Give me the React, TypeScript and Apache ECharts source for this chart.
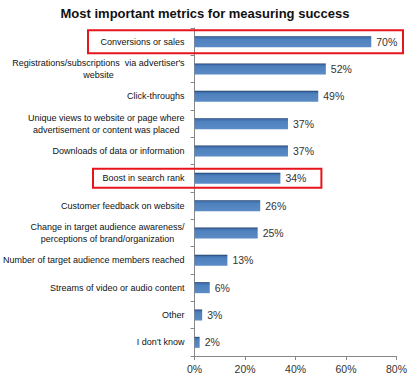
import React, { useEffect, useRef } from "react";
import * as echarts from "echarts";

const categories = [
  "Conversions or sales",
  "Registrations/subscriptions  via advertiser's\nwebsite",
  "Click-throughs",
  "Unique views to website or page where\nadvertisement or content was placed",
  "Downloads of data or information",
  "Boost in search rank",
  "Customer feedback on website",
  "Change in target audience awareness/\nperceptions of brand/organization",
  "Number of target audience members reached",
  "Streams of video or audio content",
  "Other",
  "I don't know",
];
const values = [70, 52, 49, 37, 37, 34, 26, 25, 13, 6, 3, 2];
const highlighted = [0, 5];
const title = "Most important metrics for measuring success";

const FONT = "'Liberation Sans', Arial, sans-serif";

export default function App() {
  const ref = useRef<HTMLDivElement>(null);
  useEffect(() => {
    const chart = echarts.init(ref.current!, null, { renderer: "svg" });
    chart.setOption({
      animation: false,
      backgroundColor: "#fff",
      title: {
        text: title,
        left: "center",
        top: 2,
        textStyle: { fontFamily: FONT, fontSize: 13, fontWeight: "bold", color: "#111" },
      },
      grid: { left: 192, right: 12, top: 28, bottom: 24 },
      xAxis: {
        type: "value",
        min: 0,
        max: 80,
        interval: 20,
        axisLine: { show: true, lineStyle: { color: "#888" } },
        axisTick: { show: true, length: 4, lineStyle: { color: "#888" } },
        splitLine: { show: false },
        axisLabel: {
          formatter: "{value}%",
          fontFamily: FONT,
          fontSize: 10.5,
          color: "#333",
          margin: 7,
        },
      },
      yAxis: {
        type: "category",
        inverse: true,
        data: categories,
        axisLine: { show: true, lineStyle: { color: "#888" } },
        axisTick: { show: true, length: 4, lineStyle: { color: "#888" } },
        axisLabel: {
          margin: 10,
          interval: 0,
          formatter: (v: string) => v.split("\n").map((l) => "{c|" + l + "}").join("\n"),
          rich: {
            c: { align: "center", fontFamily: FONT, fontSize: 9, color: "#111", lineHeight: 12 },
          },
        },
      },
      series: [
        {
          type: "bar",
          data: values,
          barWidth: 11,
          itemStyle: {
            color: new echarts.graphic.LinearGradient(0, 0, 0, 1, [
              { offset: 0, color: "#1f3a60" },
              { offset: 0.12, color: "#3f6fae" },
              { offset: 0.3, color: "#4f81bd" },
              { offset: 1, color: "#5a8bc6" },
            ]),
          },
          label: {
            show: true,
            position: "right",
            distance: 5,
            formatter: "{c}%",
            fontFamily: FONT,
            fontSize: 10.5,
            color: "#333",
          },
        },
      ],
    });

    const boxes = highlighted.map((idx) => {
      const p0 = chart.convertToPixel({ gridIndex: 0 }, [0, idx]) as number[];
      const p1 = chart.convertToPixel({ gridIndex: 0 }, [values[idx], idx]) as number[];
      const left = idx === 0 ? 88 : 93;
      const right = idx === 0 ? 403 : p1[0] + 41;
      const h = idx === 0 ? 23 : 19;
      return {
        type: "rect",
        shape: { x: left, y: p0[1] - h / 2, width: right - left, height: h },
        style: { fill: "none", stroke: "#e8141b", lineWidth: 2 },
        z: 100,
      };
    });
    chart.setOption({ graphic: boxes });
    return () => chart.dispose();
  }, []);
  return <div ref={ref} style={{ width: 410, height: 380, position: "absolute", left: 0, top: 0 }} />;
}
